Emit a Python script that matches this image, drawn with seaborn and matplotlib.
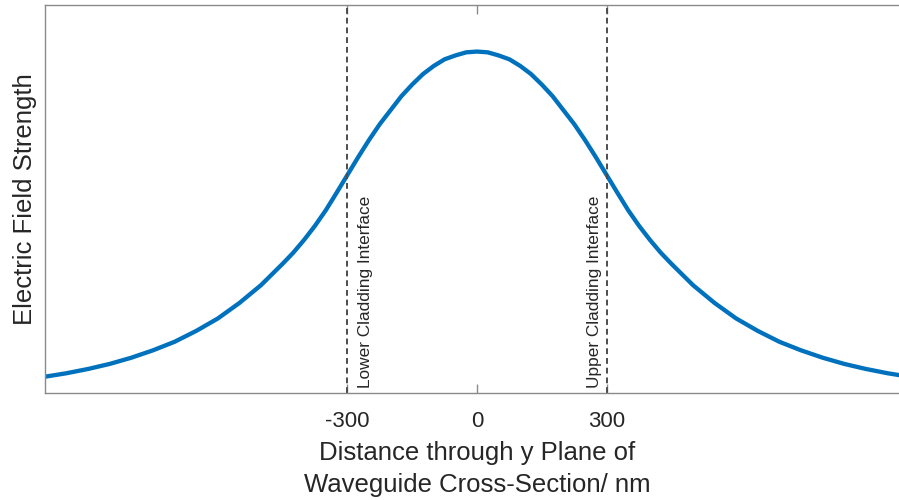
import matplotlib
matplotlib.use("Agg")
import matplotlib.pyplot as plt
import seaborn as sns
import pandas as pd

# ---- data (symmetric profile) ----
half_x = [0, 25, 50, 75, 100, 125, 150, 175, 200, 225, 250, 275, 300, 325, 350, 375,
          400, 425, 450, 500, 550, 600, 650, 700, 750, 800, 850, 900, 950, 1000]
half_y = [0.880, 0.878, 0.870, 0.860, 0.843, 0.822, 0.795, 0.765, 0.729, 0.693, 0.652,
          0.608, 0.562, 0.516, 0.471, 0.431, 0.395, 0.362, 0.333, 0.278, 0.232, 0.192,
          0.160, 0.132, 0.110, 0.091, 0.075, 0.062, 0.051, 0.042]
distance_nm = [-v for v in half_x[:0:-1]] + half_x
field_strength = half_y[:0:-1] + half_y

interfaces = [-300, 300]
interface_labels = ["Lower Cladding Interface", "Upper Cladding Interface"]
tick_values = [-300, 0, 300]
tick_labels = ["-300", "0", "300"]
x_label = "Distance through y Plane of\nWaveguide Cross-Section/ nm"
y_label = "Electric Field Strength"

df = pd.DataFrame({"x": distance_nm, "y": field_strength})

sns.set_theme(style="white")
plt.rcParams["font.family"] = ["Liberation Sans", "DejaVu Sans"]

fig = plt.figure(figsize=(8.99, 5.0), dpi=100)
ax = fig.add_axes([45 / 899, 107 / 500, 864 / 899, 388 / 500])

sns.lineplot(data=df, x="x", y="y", ax=ax, color="#0072BD", linewidth=3.1,
             sort=False)
ax.lines[0].set_solid_joinstyle("round")

for xv in interfaces:
    ax.axvline(xv, color="#4d4d4d", linewidth=1.4, dashes=(3.0, 2.0))

ax.text(interfaces[0] + 42, 0.012, interface_labels[0], rotation=90,
        ha="center", va="bottom", fontsize=12.4, color="#262626")
ax.text(interfaces[1] - 27, 0.012, interface_labels[1], rotation=90,
        ha="center", va="bottom", fontsize=12.4, color="#262626")

ax.set_xlim(-1000, 1000)
ax.set_ylim(0, 1)
ax.set_xticks(tick_values)
ax.set_xticklabels(tick_labels)
ax.set_yticks([])
ax.tick_params(axis="x", direction="in", length=6.2, width=1.0, color="#8a8a8a",
               top=True, bottom=True, labelsize=16, labelcolor="#262626", pad=13)
ax.set_xlabel(x_label, fontsize=18.5, color="#262626", labelpad=6.5, linespacing=1.4)
ax.set_ylabel(y_label, fontsize=18.5, color="#262626", labelpad=6)

for s in ["left", "right", "top", "bottom"]:
    ax.spines[s].set_visible(True)
    ax.spines[s].set_color("#8a8a8a")
    ax.spines[s].set_linewidth(1.0)

fig.savefig("out.png", dpi=100, facecolor="white")
